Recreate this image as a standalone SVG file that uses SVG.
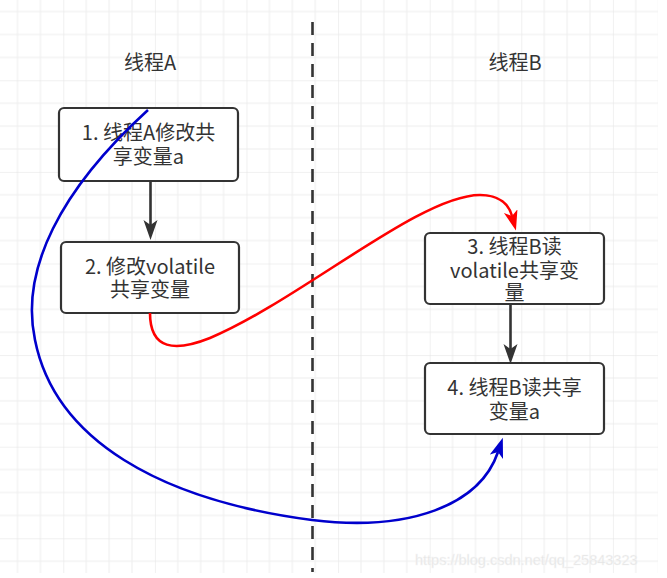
<svg xmlns="http://www.w3.org/2000/svg" width="667" height="578" viewBox="0 0 667 578">
<defs>
<pattern id="grid" patternUnits="userSpaceOnUse" x="-28.3" y="-11.3" width="91.6" height="91.6">
<path d="M22.9,0V91.6M45.8,0V91.6M68.7,0V91.6M0,22.9H91.6M0,45.8H91.6M0,68.7H91.6" stroke="#eeeeee" stroke-width="1" fill="none"/>
<path d="M0,0V91.6M0,0H91.6" stroke="#e2e2e2" stroke-width="1" fill="none"/>
</pattern>
<marker id="ahBlack" markerUnits="userSpaceOnUse" markerWidth="22" markerHeight="16" refX="5" refY="7" orient="auto" viewBox="0 0 22 16"><path d="M0,0 L20,7 L0,14 L5,7 z" fill="#333333"/></marker>
<marker id="ahRed" markerUnits="userSpaceOnUse" markerWidth="22" markerHeight="16" refX="5" refY="7" orient="auto" viewBox="0 0 22 16"><path d="M0,0 L20,7 L0,14 L5,7 z" fill="#ff0000"/></marker>
<marker id="ahBlue" markerUnits="userSpaceOnUse" markerWidth="22" markerHeight="16" refX="5" refY="7" orient="auto" viewBox="0 0 22 16"><path d="M0,0 L20,7 L0,14 L5,7 z" fill="#0000cc"/></marker>
</defs>
<style>
.box{fill:#ffffff;stroke:#333333;stroke-width:2.2}
.t{font-family:"Microsoft YaHei","Noto Sans CJK SC","Noto Sans",sans-serif;font-size:20px;fill:#333333;text-anchor:middle}
.edge{fill:none;stroke-width:2.6}
.wm{font-family:"Liberation Sans",Arial,sans-serif;font-size:14.5px;fill:#e3e3e3;stroke:#f6f6f6;stroke-width:0.4}
</style>
<rect x="0" y="0" width="667" height="578" fill="#ffffff"/>
<rect x="0" y="0" width="658" height="573" fill="url(#grid)"/>
<line x1="312.5" y1="22" x2="312.5" y2="572" stroke="#333333" stroke-width="2.6" stroke-dasharray="13 8"/>
<g id="labelA"><text class="t" x="150" y="70">线程A</text></g>
<g id="labelB"><text class="t" x="515" y="70">线程B</text></g>
<g id="node1">
<rect class="box" x="59" y="108" width="179" height="73" rx="5"/>
<text class="t" x="148.5" y="140">1. 线程A修改共</text>
<text class="t" x="148.5" y="164">享变量a</text>
</g>
<g id="node2">
<rect class="box" x="61" y="242" width="178" height="71" rx="5"/>
<text class="t" x="150" y="274">2. 修改volatile</text>
<text class="t" x="150" y="297">共享变量</text>
</g>
<g id="node3">
<rect class="box" x="425" y="233" width="179" height="71" rx="5"/>
<text class="t" x="514.5" y="254">3. 线程B读</text>
<text class="t" x="514.5" y="278">volatile共享变</text>
<text class="t" x="514.5" y="300">量</text>
</g>
<g id="node4">
<rect class="box" x="425" y="363" width="179" height="71" rx="5"/>
<text class="t" x="514.5" y="395">4. 线程B读共享</text>
<text class="t" x="514.5" y="419">变量a</text>
</g>
<g id="connectors">
<path class="edge" stroke="#333333" d="M150.5,181 V225" marker-end="url(#ahBlack)"/>
<path class="edge" stroke="#333333" d="M510.5,304 V349" marker-end="url(#ahBlack)"/>
<path class="edge" stroke="#ff0000" d="M150,313 C150,350 175,352 210,338 C300,300 420,195 480,195 C500,195 509,205 512,216" marker-end="url(#ahRed)"/>
<path class="edge" stroke="#0000cc" d="M148,110 C60,190 20,270 35,340 C55,440 160,500 312,520 C410,532 480,505 498,452" marker-end="url(#ahBlue)"/>
</g>
<text class="wm" x="415" y="565">https://blog.csdn.net/qq_25843323</text>
</svg>
